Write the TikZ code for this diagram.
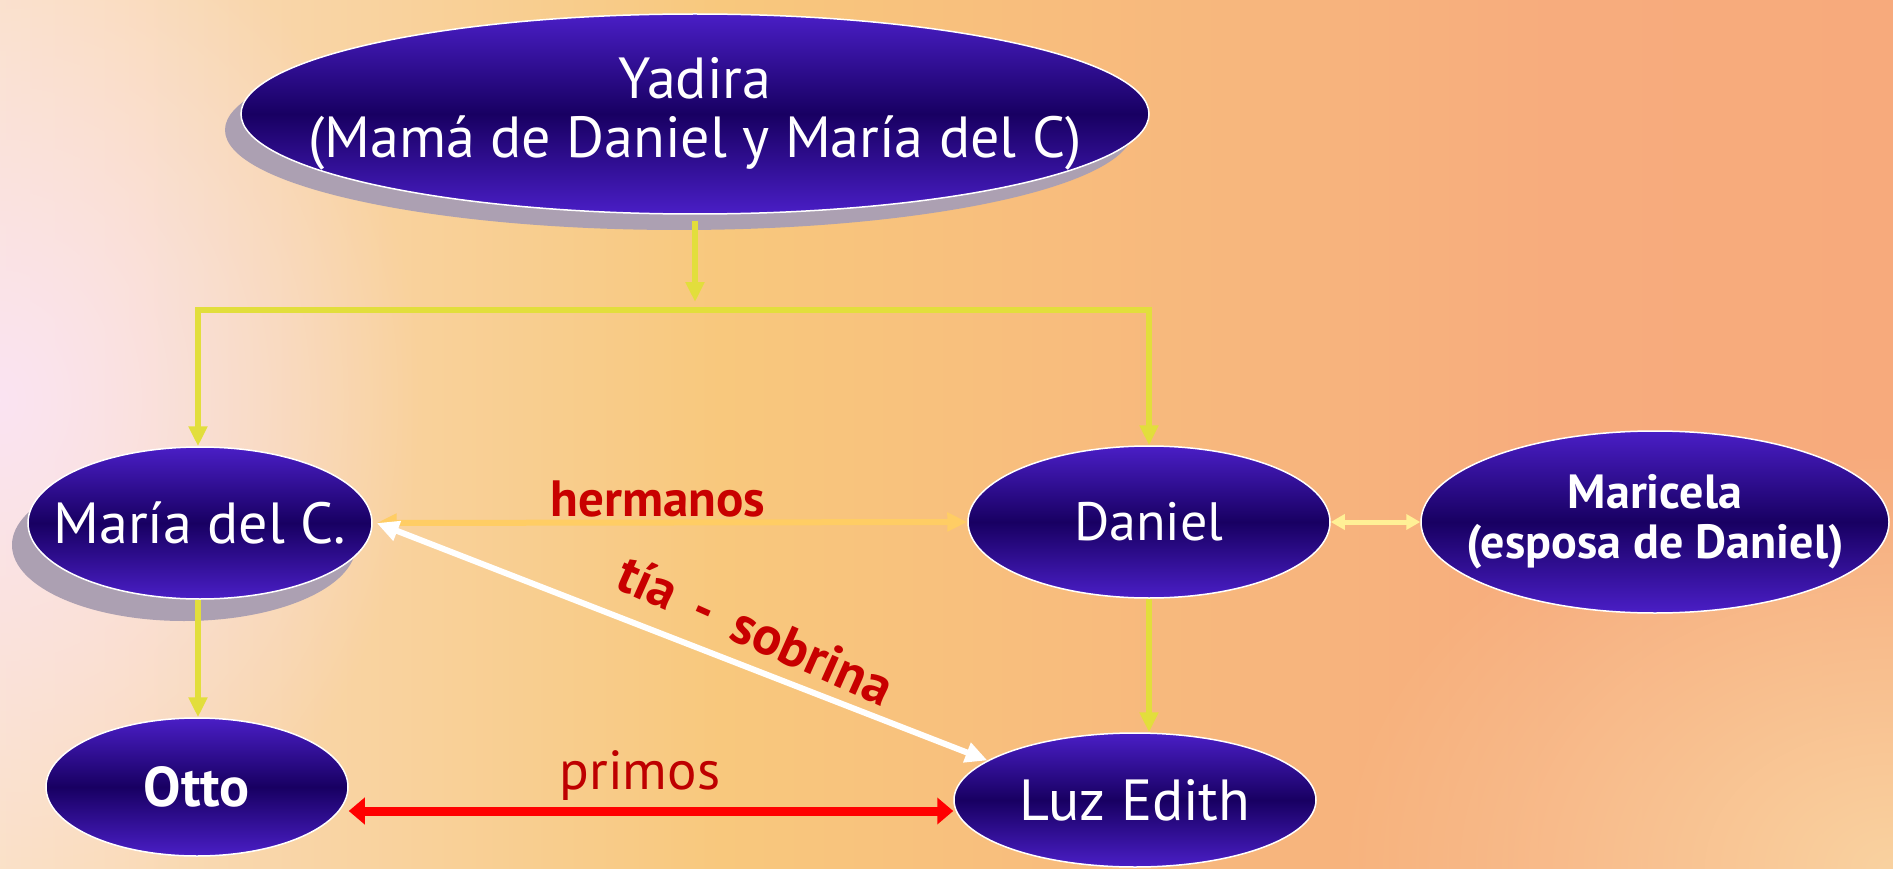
\documentclass[tikz,border=0pt]{standalone}
\usepackage{fontspec}
\setmainfont{PT Sans}
\usetikzlibrary{arrows.meta,shapes.geometric,calc,fadings}
\definecolor{bgA}{RGB}{252,240,232}
\definecolor{bgB}{RGB}{249,214,170}
\definecolor{bgC}{RGB}{248,200,125}
\definecolor{bgD}{RGB}{247,172,125}
\definecolor{bgE}{RGB}{248,168,122}
\definecolor{bgPink}{RGB}{250,228,242}
\definecolor{bgLight}{RGB}{250,210,160}
\definecolor{blueL}{RGB}{74,30,198}
\definecolor{blueD}{RGB}{24,0,98}
\definecolor{shadowc}{RGB}{172,160,178}
\definecolor{yel}{RGB}{226,222,60}
\definecolor{herm}{RGB}{255,205,100}
\definecolor{lyel}{RGB}{255,240,150}
\definecolor{lab}{RGB}{200,0,0}
\definecolor{prim}{RGB}{255,0,0}
\pgfdeclarehorizontalshading{bgshade}{100bp}{color(0bp)=(bgA); color(15bp)=(bgA); color(32bp)=(bgB); color(44bp)=(bgC); color(66bp)=(bgD); color(85bp)=(bgE); color(100bp)=(bgE)}
\tikzfading[name=softblob, inner color=transparent!0, outer color=transparent!100]
\tikzset{
  person/.style={ellipse, draw=white, line width=1.5pt, inner sep=-400pt,
    top color=blueL, bottom color=blueL, middle color=blueD,
    text=white, align=center},
  yarrow/.style={draw=yel, line width=6pt, -{Triangle[length=20pt,width=18pt]}},
  yline/.style={draw=yel, line width=6pt},
  lbl/.style={text=lab, font=\bfseries\fontsize{51}{54}\selectfont},
}
\begin{document}
\begin{tikzpicture}[x=1pt,y=-1pt]
\useasboundingbox (0,0) rectangle (1893,869);
\shade[shading=bgshade, shading angle=0] (0,0) rectangle (1893,869);
\fill[bgPink, path fading=softblob] (0,400) ellipse [x radius=420, y radius=520];
\fill[bgLight, path fading=softblob] (1893,869) ellipse [x radius=560, y radius=420];
% shadows
\fill[shadowc] (679,130) ellipse [x radius=454, y radius=100];
\fill[shadowc] (184,545) ellipse [x radius=172, y radius=76];
% nodes
\node[person, minimum width=908pt, minimum height=200pt, font=\fontsize{58}{59}\selectfont] (Y) at (695,114) {Yadira\\(Mamá de Daniel y María del C)};
\node[person, minimum width=344pt, minimum height=152pt, font=\fontsize{58}{59}\selectfont] (M) at (200,523) {María del C.};
\node[person, minimum width=362pt, minimum height=152pt, font=\fontsize{54}{59}\selectfont] (D) at (1149,522) {Daniel};
\node[person, minimum width=468pt, minimum height=182pt, font=\bfseries\fontsize{48}{50}\selectfont] (R) at (1655,522) {Maricela\\(esposa de Daniel)};
\node[person, minimum width=302pt, minimum height=138pt, font=\bfseries\fontsize{56}{58}\selectfont] (O) at (197,787) {Otto};
\node[person, minimum width=362pt, minimum height=134pt, font=\fontsize{58}{59}\selectfont] (L) at (1135,800) {Luz Edith};
% junctions
\coordinate (jn) at (695,310);
\coordinate (jl) at (198,310);
\coordinate (jr) at (1149,310);
\draw[yarrow] ([yshift=-6pt]Y.south) -- ([yshift=8pt]jn);
\draw[yline] ([xshift=-3pt]jl) -- ([xshift=3pt]jr);
\draw[yarrow] (jl) -- (jl |- M.north);
\draw[yarrow] (jr) -- (D.north);
\draw[yarrow] (M.south -| jl) -- (jl |- O.north);
\draw[yarrow] (D.south) -- (D.south |- L.north);
% relations
\draw[draw=herm, line width=6pt, {Triangle[length=20pt,width=18pt]}-{Triangle[length=20pt,width=18pt]}] ([xshift=4pt]M.east) -- (D.west);
\draw[draw=lyel, line width=5pt, {Triangle[length=14pt,width=15pt]}-{Triangle[length=14pt,width=15pt]}] (D.east) -- (R.west);
\draw[draw=white, line width=6pt, {Triangle[length=22pt,width=20pt]}-{Triangle[length=22pt,width=20pt]}] ([xshift=4pt]M.east) -- (L.165);
\draw[draw=prim, line width=9pt, {Triangle[length=16pt,width=26pt]}-{Triangle[length=16pt,width=26pt]}] ([yshift=-24pt]O.east) -- ([yshift=-11pt]L.west);
% labels
\node[lbl] (hl) at (658,499) {hermanos};
\node[lbl, rotate=-24, font=\bfseries\fontsize{54}{56}\selectfont] (tl) at (756,630) {tía\, - \,sobrina};
\node[text=lab!95!black, font=\fontsize{55}{58}\selectfont] (pl) at (640,776) {primos};
\end{tikzpicture}
\end{document}
